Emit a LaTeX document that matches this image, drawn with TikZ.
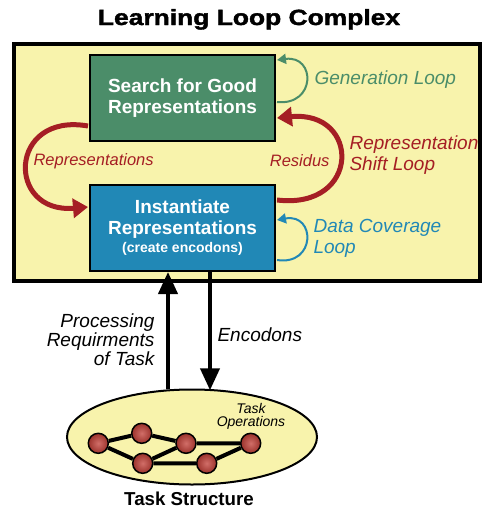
\documentclass[tikz,border=0pt]{standalone}
\usepackage{fontspec}
\usepackage{graphicx}
\setmainfont{Liberation Sans}
\newfontfamily\titlefont[FakeBold=1.6]{Liberation Sans Bold}
\usetikzlibrary{arrows.meta,calc,shapes.geometric}

\definecolor{panel}{HTML}{F8F3AC}
\definecolor{searchgreen}{HTML}{4B8D69}
\definecolor{instblue}{HTML}{2188B6}
\definecolor{loopred}{HTML}{A51E24}
\definecolor{ballred}{HTML}{C23E36}

\tikzset{
  procbox/.style={draw=black, line width=2pt, minimum width=185pt, minimum height=86pt,
    text=white, align=center, font=\bfseries\fontsize{19}{21}\selectfont},
  smallloop/.style={line width=2pt, {Triangle[length=9pt,width=10pt]}-},
  bigloop/.style={draw=loopred, line width=5pt, -{Triangle[length=15pt,width=19pt]}},
  looplabel/.style={font=\itshape\fontsize{19}{20.5}\selectfont, align=left},
  redlabel/.style={font=\itshape\fontsize{16.5}{18}\selectfont, text=loopred},
  flow/.style={line width=4pt, -{Triangle[length=22pt,width=19pt]}},
  tasknode/.style={circle, draw=black, line width=1.5pt, minimum size=20pt, inner sep=0pt,
    shading=radial, inner color=ballred!75!white, outer color=ballred!80!black},
  taskedge/.style={line width=4pt, black}
}

\begin{document}
\begin{tikzpicture}[x=1pt,y=-1pt]
\useasboundingbox (0,0) rectangle (483,512);

% title
\node[anchor=base] (title) at (249,25) {\scalebox{1.2}[1]{\titlefont\fontsize{22}{24}\selectfont Learning Loop Complex}};

% yellow panel holding the learning loops
\draw[line width=4pt, fill=panel] (14,44) rectangle (480,281);

% the two process boxes
\node[procbox, fill=searchgreen] (search) at (182.5,98) {Search for Good\\Representations};
\node[procbox, fill=instblue] (inst) at (182.5,228)
  {Instantiate\\Representations\\[-3pt]{\fontsize{14}{15}\selectfont (create encodons)}};

% generation loop
\draw[smallloop, searchgreen] ($(search.east)+(1,-38)$) .. controls (316,55) and (316,106) .. ($(search.east)+(1,4)$);
\node[looplabel, text=searchgreen, anchor=west] (genlbl) at (311,80) {Generation Loop};

% data coverage loop
\draw[smallloop, instblue] ($(inst.east)+(1,-8)$) .. controls (316,213) and (316,266) .. ($(inst.east)+(1,32)$);
\node[looplabel, text=instblue, anchor=west] (covlbl) at (310,238.5) {Data Coverage\\Loop};

% representation shift loop
\draw[bigloop] ($(inst.east)+(1,-28)$) .. controls (361,210) and (361,110) .. ($(search.east)+(1,20)$);
\draw[bigloop] ($(search.west)+(-1,28)$) .. controls (8,112) and (6,214) .. ($(inst.west)+(-1,-21)$);
\node[redlabel, anchor=east] (reslbl) at (333,161) {Residus};
\node[redlabel, anchor=west] (replbl) at (30,161) {Representations};
\node[looplabel, text=loopred, anchor=west] (shiftlbl) at (346,155) {Representation\\Shift Loop};

% task structure
\coordinate (upx) at (168,0);
\coordinate (downx) at (210,0);
\node[ellipse, minimum width=250pt, minimum height=95pt, inner sep=0pt] (task) at (192,437) {};
\draw[flow] (task.north -| upx) -- (inst.south -| upx);
\draw[flow] (inst.south -| downx) -- ([yshift=-1pt]task.north -| downx);
\draw[line width=2pt, fill=panel] (task.center) ellipse [x radius=125pt, y radius=47.5pt];

\node[looplabel, align=right, anchor=east, text=black, font=\itshape\fontsize{19}{19}\selectfont] (proclbl) at (158,340)
  {Processing\\Requirments\\of Task};
\node[looplabel, text=black, anchor=west] (enclbl) at (214,335) {Encodons};

\node[font=\itshape\fontsize{14}{13}\selectfont, align=center] (oplbl) at (251,416) {Task\\Operations};

\node[tasknode] (n1) at (98.3,443.3) {};
\node[tasknode] (n2) at (141.7,433.3) {};
\node[tasknode] (n3) at (186,443.3) {};
\node[tasknode] (n4) at (250.7,443.3) {};
\node[tasknode] (n5) at (142.7,463.3) {};
\node[tasknode] (n6) at (206.7,463.3) {};
\draw[taskedge] (n1) -- (n2) (n2) -- (n3) (n3) -- (n4)
  (n1) -- (n5) (n5) -- (n3) (n5) -- (n6) (n6) -- (n4);

\node[font=\bfseries\fontsize{18.7}{20}\selectfont] (structlbl) at (189,499) {Task Structure};
\end{tikzpicture}
\end{document}
